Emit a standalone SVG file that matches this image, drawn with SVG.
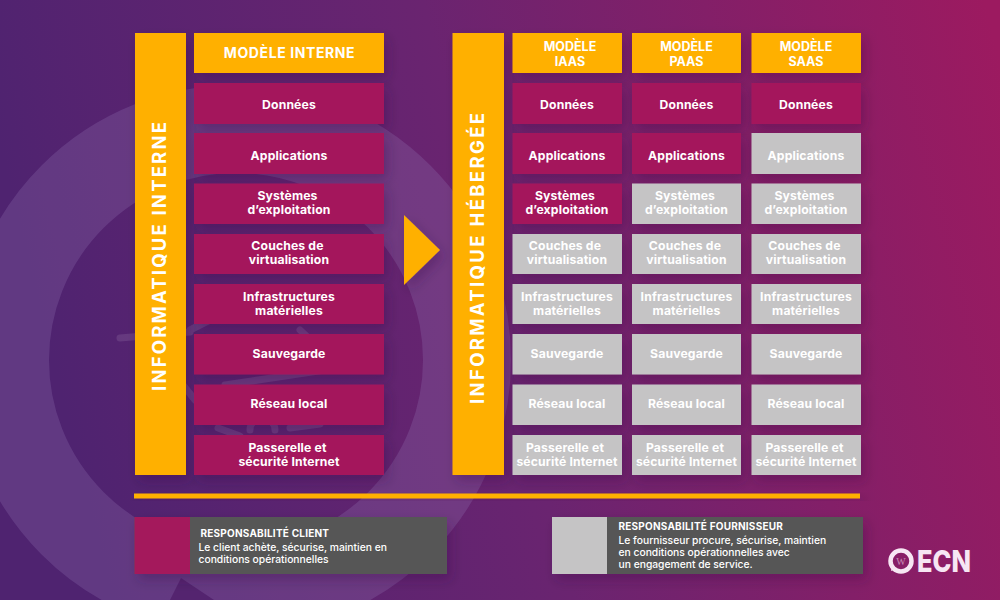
<svg xmlns="http://www.w3.org/2000/svg" width="1000" height="600" viewBox="0 0 1000 600">
<defs>
<linearGradient id="bg" x1="0" y1="0.25" x2="1" y2="0.1"><stop offset="0" stop-color="#4f2370"/><stop offset="0.45" stop-color="#6a2470"/><stop offset="1" stop-color="#9c1a60"/></linearGradient>
<filter id="sh" x="-30%" y="-30%" width="170%" height="170%"><feDropShadow dx="4" dy="6" stdDeviation="6" flood-color="#2a0a3a" flood-opacity="0.26"/></filter>
</defs>
<style>
text{font-family:"Inter","Liberation Sans",sans-serif;fill:#fff;font-weight:700}
.m{fill:#a4195c;filter:url(#sh)}
.g{fill:#c5c4c5;filter:url(#sh)}
.o{fill:#ffb000;filter:url(#sh)}
.t{font-size:12.2px;text-anchor:middle;letter-spacing:.15px}
.h{font-size:12.5px;text-anchor:middle;font-weight:700}
.v{font-size:18.5px;text-anchor:middle}
.lt{font-size:10px;letter-spacing:.22px}
.ll{font-size:10.3px;font-weight:500}
.ring{fill:none;stroke:#a98ab8;stroke-opacity:.22;stroke-linecap:round}
</style>
<rect width="1000" height="600" fill="url(#bg)"/>
<g id="background">
<circle cx="236" cy="360" r="231" fill="none" stroke="#9478b4" stroke-opacity=".27" stroke-width="88"/>
<path d="M170 600L181 578L214 600Z" fill="#54246f"/>
<path d="M120 338L190 332M190 330L250 300M300 330L316 345M175 375L195 400M225 385L325 370M218 428L240 436M250 430A12 12 0 0 1 275 430M290 428L320 424" class="ring" stroke-width="7"/>
</g>
<g id="connectors"><path d="M404 215L440 250L404 285Z" class="o"/></g>
<g id="divider"><rect x="134" y="493.5" width="726" height="5" class="o"/></g>
<g id="informatique-interne"><rect x="135" y="33" width="51" height="442" class="o"/><text class="v" transform="translate(166,256.500) rotate(-90)" textLength="269">INFORMATIQUE INTERNE</text></g>
<g id="informatique-hebergee"><rect x="452.500" y="33" width="51.500" height="442" class="o"/><text class="v" transform="translate(484,258.500) rotate(-90)" textLength="291">INFORMATIQUE HÉBERGÉE</text></g>
<g id="modele-interne"><rect x="194" y="33" width="190" height="40" class="o"/><text x="289.500" y="58" text-anchor="middle" style="font-size:14px;letter-spacing:.6px">MODÈLE INTERNE</text></g>
<g id="modele-iaas"><rect x="512.500" y="33" width="109.500" height="40" class="o"/><text class="h" x="570" y="51">MODÈLE</text><text class="h" x="570" y="66">IAAS</text></g>
<g id="modele-paas"><rect x="632" y="33" width="109" height="40" class="o"/><text class="h" x="686.500" y="51">MODÈLE</text><text class="h" x="686.500" y="66">PAAS</text></g>
<g id="modele-saas"><rect x="751.500" y="33" width="109.500" height="40" class="o"/><text class="h" x="806" y="51">MODÈLE</text><text class="h" x="806" y="66">SAAS</text></g>

<g id="int-donnees"><rect x="194" y="83" width="190" height="41" class="m"/><text class="t" x="289" y="109">Données</text></g>
<g id="int-applications"><rect x="194" y="133" width="190" height="41" class="m"/><text class="t" x="289" y="160">Applications</text></g>
<g id="int-systemes"><rect x="194" y="183.500" width="190" height="40.500" class="m"/><text class="t" x="287.500" y="200">Systèmes</text><text class="t" x="289" y="214">d’exploitation</text></g>
<g id="int-couches"><rect x="194" y="234" width="190" height="40" class="m"/><text class="t" x="287.500" y="250">Couches de</text><text class="t" x="289" y="264">virtualisation</text></g>
<g id="int-infra"><rect x="194" y="284" width="190" height="40" class="m"/><text class="t" x="289" y="301">Infrastructures</text><text class="t" x="289" y="315">matérielles</text></g>
<g id="int-sauvegarde"><rect x="194" y="334" width="190" height="40.500" class="m"/><text class="t" x="289" y="358">Sauvegarde</text></g>
<g id="int-reseau"><rect x="194" y="384.500" width="190" height="40.500" class="m"/><text class="t" x="289" y="408">Réseau local</text></g>
<g id="int-passerelle"><rect x="194" y="435" width="190" height="40" class="m"/><text class="t" x="287.500" y="452">Passerelle et</text><text class="t" x="289" y="466">sécurité Internet</text></g>

<g id="iaas-donnees"><rect x="512.500" y="83" width="109.500" height="41" class="m"/><text class="t" x="567" y="109">Données</text></g>
<g id="iaas-applications"><rect x="512.500" y="133" width="109.500" height="41" class="m"/><text class="t" x="567" y="160">Applications</text></g>
<g id="iaas-systemes"><rect x="512.500" y="183.500" width="109.500" height="40.500" class="m"/><text class="t" x="565" y="200">Systèmes</text><text class="t" x="567" y="214">d’exploitation</text></g>
<g id="iaas-couches"><rect x="512.500" y="234" width="109.500" height="40" class="g"/><text class="t" x="565" y="250">Couches de</text><text class="t" x="567" y="264">virtualisation</text></g>
<g id="iaas-infra"><rect x="512.500" y="284" width="109.500" height="40" class="g"/><text class="t" x="567" y="301">Infrastructures</text><text class="t" x="567" y="315">matérielles</text></g>
<g id="iaas-sauvegarde"><rect x="512.500" y="334" width="109.500" height="40.500" class="g"/><text class="t" x="567" y="358">Sauvegarde</text></g>
<g id="iaas-reseau"><rect x="512.500" y="384.500" width="109.500" height="40.500" class="g"/><text class="t" x="567" y="408">Réseau local</text></g>
<g id="iaas-passerelle"><rect x="512.500" y="435" width="109.500" height="40" class="g"/><text class="t" x="565" y="452">Passerelle et</text><text class="t" x="567" y="466">sécurité Internet</text></g>

<g id="paas-donnees"><rect x="632" y="83" width="109" height="41" class="m"/><text class="t" x="686.500" y="109">Données</text></g>
<g id="paas-applications"><rect x="632" y="133" width="109" height="41" class="m"/><text class="t" x="686.500" y="160">Applications</text></g>
<g id="paas-systemes"><rect x="632" y="183.500" width="109" height="40.500" class="g"/><text class="t" x="685" y="200">Systèmes</text><text class="t" x="686.500" y="214">d’exploitation</text></g>
<g id="paas-couches"><rect x="632" y="234" width="109" height="40" class="g"/><text class="t" x="685" y="250">Couches de</text><text class="t" x="686.500" y="264">virtualisation</text></g>
<g id="paas-infra"><rect x="632" y="284" width="109" height="40" class="g"/><text class="t" x="686.500" y="301">Infrastructures</text><text class="t" x="686.500" y="315">matérielles</text></g>
<g id="paas-sauvegarde"><rect x="632" y="334" width="109" height="40.500" class="g"/><text class="t" x="686.500" y="358">Sauvegarde</text></g>
<g id="paas-reseau"><rect x="632" y="384.500" width="109" height="40.500" class="g"/><text class="t" x="686.500" y="408">Réseau local</text></g>
<g id="paas-passerelle"><rect x="632" y="435" width="109" height="40" class="g"/><text class="t" x="685" y="452">Passerelle et</text><text class="t" x="686.500" y="466">sécurité Internet</text></g>

<g id="saas-donnees"><rect x="751.500" y="83" width="109.500" height="41" class="m"/><text class="t" x="806" y="109">Données</text></g>
<g id="saas-applications"><rect x="751.500" y="133" width="109.500" height="41" class="g"/><text class="t" x="806" y="160">Applications</text></g>
<g id="saas-systemes"><rect x="751.500" y="183.500" width="109.500" height="40.500" class="g"/><text class="t" x="804.500" y="200">Systèmes</text><text class="t" x="806" y="214">d’exploitation</text></g>
<g id="saas-couches"><rect x="751.500" y="234" width="109.500" height="40" class="g"/><text class="t" x="804.500" y="250">Couches de</text><text class="t" x="806" y="264">virtualisation</text></g>
<g id="saas-infra"><rect x="751.500" y="284" width="109.500" height="40" class="g"/><text class="t" x="806" y="301">Infrastructures</text><text class="t" x="806" y="315">matérielles</text></g>
<g id="saas-sauvegarde"><rect x="751.500" y="334" width="109.500" height="40.500" class="g"/><text class="t" x="806" y="358">Sauvegarde</text></g>
<g id="saas-reseau"><rect x="751.500" y="384.500" width="109.500" height="40.500" class="g"/><text class="t" x="806" y="408">Réseau local</text></g>
<g id="saas-passerelle"><rect x="751.500" y="435" width="109.500" height="40" class="g"/><text class="t" x="804.500" y="452">Passerelle et</text><text class="t" x="806" y="466">sécurité Internet</text></g>

<g id="legend-client"><rect x="134.500" y="517" width="312.500" height="57" fill="#565656" filter="url(#sh)"/><rect x="134.500" y="517" width="55.500" height="57" fill="#a4195c"/><text class="lt" x="200.500" y="537">RESPONSABILITÉ CLIENT</text><text class="ll" x="198.500" y="551">Le client achète, sécurise, maintien en</text><text class="ll" x="198.500" y="563">conditions opérationnelles</text></g>
<g id="legend-fournisseur"><rect x="552" y="517" width="311" height="57" fill="#565656" filter="url(#sh)"/><rect x="552" y="517" width="55" height="57" fill="#c5c4c5"/><text class="lt" x="618.500" y="530">RESPONSABILITÉ FOURNISSEUR</text><text class="ll" x="618.500" y="544">Le fournisseur procure, sécurise, maintien</text><text class="ll" x="618.500" y="556">en conditions opérationnelles avec</text><text class="ll" x="618.500" y="568">un engagement de service.</text></g>
<g id="logo"><circle cx="901" cy="561" r="10.500" fill="none" stroke="#f7e6f3" stroke-width="4.500"/><path d="M892 566L891 571L896 569Z" fill="#f7e6f3"/><text x="901" y="565" text-anchor="middle" style="font-family:'Liberation Serif',serif;font-size:10px;fill:#c98ab5;font-weight:400">W</text><text x="917" y="572" style="font-size:30px;fill:#f7e6f3;font-weight:800" textLength="54" lengthAdjust="spacingAndGlyphs">ECN</text></g>
</svg>
